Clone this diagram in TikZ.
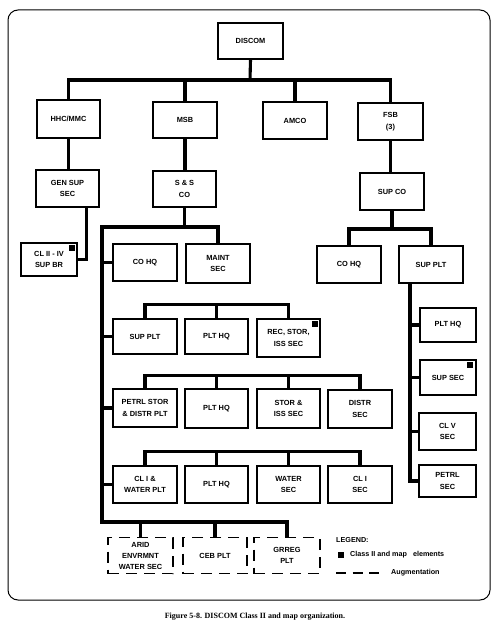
\documentclass[tikz,border=0pt]{standalone}
\usepackage{fontspec}
\setmainfont{Liberation Serif}
\newfontfamily\bxfont{Liberation Sans}
\begin{document}
\begin{tikzpicture}[x=1pt,y=-1pt,
  box/.style={draw, line width=1.2pt, font=\bxfont\bfseries\fontsize{7.4}{11.5}\selectfont, align=center, inner sep=0pt},
  dbox/.style={box, dash pattern=on 11pt off 7pt},
  conn/.style={line width=3.1pt},
  frame/.style={line width=1pt, rounded corners=10pt},
  legend/.style={font=\bxfont\bfseries\fontsize{7.2}{8}\selectfont, inner sep=0pt},
  blk/.style={fill=black}
]
\useasboundingbox (0,0) rectangle (495,628);
\draw[frame] (8,10) rectangle (490,600);

% top levels
\node[box, minimum width=65pt, minimum height=36pt] (discom) at (250.5,41) {DISCOM};
\node[box, minimum width=63pt, minimum height=38pt] (hhc) at (68.5,119) {HHC/MMC};
\node[box, minimum width=64pt, minimum height=36pt] (msb) at (185,120) {MSB};
\node[box, minimum width=64pt, minimum height=37pt] (amco) at (295,120.5) {AMCO};
\node[box, minimum width=65pt, minimum height=37pt] (fsb) at (390.5,121.5) {FSB\\(3)};

\node[box, minimum width=63pt, minimum height=37pt] (gensup) at (67.5,188.5) {GEN SUP\\SEC};
\node[box, minimum width=63pt, minimum height=36pt] (ssco) at (184.5,189) {S \& S\\CO};
\node[box, minimum width=64pt, minimum height=37pt] (supco) at (392,191.5) {SUP CO};
\node[box, minimum width=56pt, minimum height=33pt] (cl2) at (49,259.5) {CL II - IV\\SUP BR};

\node[box, minimum width=64pt, minimum height=37pt] (cohq1) at (145,262.5) {CO HQ};
\node[box, minimum width=64pt, minimum height=39pt] (maint) at (218,263.5) {MAINT\\SEC};
\node[box, minimum width=64pt, minimum height=37pt] (cohq2) at (349,264.5) {CO HQ};
\node[box, minimum width=64pt, minimum height=37pt] (supplt2) at (431,264.5) {SUP PLT};

% right column
\node[box, minimum width=56pt, minimum height=34pt] (rplthq) at (448,325) {PLT HQ};
\node[box, minimum width=56pt, minimum height=35pt] (rsupsec) at (448,377.5) {SUP SEC};
\node[box, minimum width=57pt, minimum height=37pt] (clv) at (447.5,431.5) {CL V\\SEC};
\node[box, minimum width=57pt, minimum height=32pt] (petrlsec) at (447.5,481) {PETRL\\SEC};

% row 1
\node[box, minimum width=64pt, minimum height=35pt] (supplt) at (145,336.5) {SUP PLT};
\node[box, minimum width=63pt, minimum height=35pt] (plthq1) at (216.5,336.5) {PLT HQ};
\node[box, minimum width=63pt, minimum height=38pt] (rec) at (288.5,338) {REC, STOR,\\ISS SEC};
% row 2
\node[box, minimum width=64pt, minimum height=38pt] (petrl) at (145,408) {PETRL STOR\\\& DISTR PLT};
\node[box, minimum width=63pt, minimum height=39pt] (plthq2) at (216.5,408.5) {PLT HQ};
\node[box, minimum width=63pt, minimum height=39pt] (storiss) at (288.5,408.5) {STOR \&\\ISS SEC};
\node[box, minimum width=64pt, minimum height=38pt] (distr) at (360,409) {DISTR\\SEC};
% row 3
\node[box, minimum width=64pt, minimum height=37pt] (cl1w) at (145,484.5) {CL I \&\\WATER PLT};
\node[box, minimum width=63pt, minimum height=37pt] (plthq3) at (216.5,484.5) {PLT HQ};
\node[box, minimum width=63pt, minimum height=37pt] (water) at (288.5,484.5) {WATER\\SEC};
\node[box, minimum width=64pt, minimum height=37pt] (cl1sec) at (360,484.5) {CL I\\SEC};
% augmentation
\node[dbox, minimum width=65pt, minimum height=36pt, font=\bxfont\bfseries\fontsize{7.4}{11}\selectfont] (arid) at (140.5,555.5) {ARID\\ENVRMNT\\WATER SEC};
\node[dbox, minimum width=64pt, minimum height=36pt] (ceb) at (215,555.5) {CEB PLT};
\node[dbox, minimum width=66pt, minimum height=36pt] (grreg) at (287,555.5) {GRREG\\PLT};

% marks
\fill[blk] ([xshift=-3pt,yshift=-3pt]cl2.north east) rectangle ++(-6,6);
\fill[blk] ([xshift=-3pt,yshift=-3pt]rec.north east) rectangle ++(-6,6);
\fill[blk] ([xshift=-4pt,yshift=-3pt]rsupsec.north east) rectangle ++(-6,6);

% connectors: top
\coordinate (b0) at (250,80);
\draw[conn] (discom.south) -- (b0);
\draw[conn] (hhc.north) |- (b0) -| (fsb.north);
\draw[conn] (msb.north) -- (msb.north |- b0);
\draw[conn] (amco.north) -- (amco.north |- b0);

% left branch
\draw[conn] (hhc.south) -- (hhc.south |- gensup.north);
\draw[conn, line width=2.6pt] ([xshift=19pt]gensup.south) |- (cl2.east);

% MSB branch
\draw[conn] (msb.south) -- (msb.south |- ssco.north);
\coordinate (st) at (102,227);
\draw[conn] (ssco.south) -- (ssco.south |- st);
\draw[conn] (maint.north) |- (st) -- (102,522) -| (grreg.north);
\foreach \n in {cohq1,supplt,petrl,cl1w}
  \draw[conn] (\n.west) -- (\n.west -| st);
\draw[conn] (supplt.north) -- ++(0,-14) -| (rec.north);
\draw[conn] (plthq1.north) -- ++(0,-14);
\draw[conn] (petrl.north) -- ++(0,-13) -| (distr.north);
\draw[conn] (plthq2.north) -- ++(0,-13);
\draw[conn] (storiss.north) -- ++(0,-13);
\draw[conn] (cl1w.north) -- ++(0,-14) -| (cl1sec.north);
\draw[conn] (plthq3.north) -- ++(0,-14);
\draw[conn] (water.north) -- ++(0,-14);
\draw[conn] (arid.north) -- ++(0,-15.5);
\draw[conn] (ceb.north) -- ++(0,-15.5);

% FSB branch
\draw[conn] (fsb.south) -- (fsb.south |- supco.north);
\coordinate (b2) at (392,229);
\draw[conn] (supco.south) -- (b2);
\draw[conn] (cohq2.north) |- (b2) -| (supplt2.north);
\coordinate (rvx) at (410,0);
\draw[conn] (supplt2.south -| rvx) |- (petrlsec.west);
\foreach \n in {rplthq,rsupsec,clv}
  \draw[conn] (\n.west) -- (\n.west -| rvx);

% legend
\node[legend, anchor=west] (leg) at (336,540) {LEGEND:};
\node[blk, minimum size=6pt, inner sep=0pt] (legsq) at (341,555) {};
\node[legend, anchor=west] (legc) at (350,555) {Class II and map\ \ \ elements};
\coordinate (la) at (336,573);
\coordinate (lb) at (379,573);
\draw[line width=1.1pt, dash pattern=on 10pt off 6.5pt] (la) -- (lb);
\node[legend, anchor=west] (lega) at (391,573) {Augmentation};

% caption
\node[font=\bfseries\fontsize{8}{10}\selectfont, inner sep=0pt] (cap) at (255,617) {Figure 5-8. DISCOM Class II and map organization.};
\end{tikzpicture}
\end{document}
